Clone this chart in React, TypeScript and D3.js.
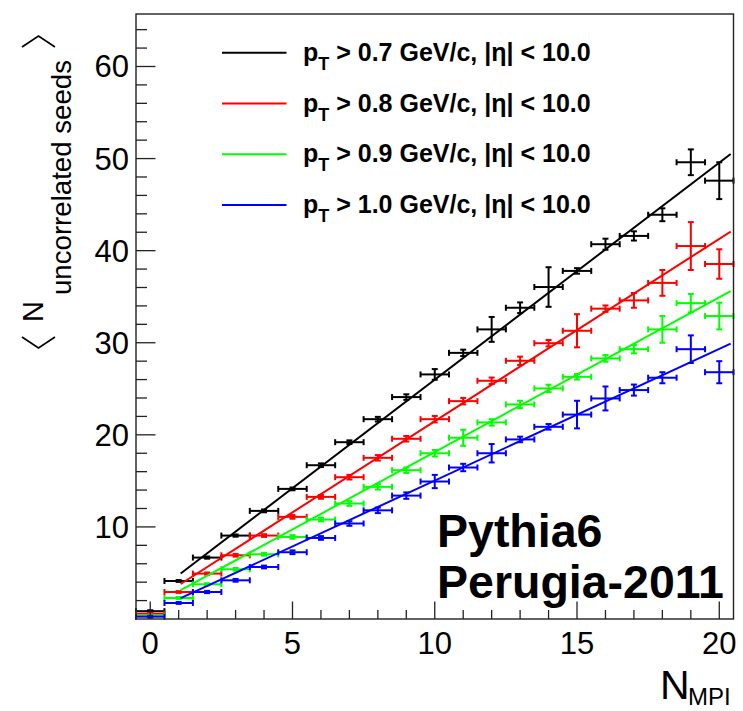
import React from "react";
import * as d3 from "d3";

// ---- data ----
const bins = [0, 1, 2, 3, 4, 5, 6, 7, 8, 9, 10, 11, 12, 13, 14, 15, 16, 17, 18, 19, 20];

const blackVals = [0.85, 4.13, 6.67, 9.06, 11.74, 14.13, 16.7, 19.2, 21.7, 24.1, 26.56, 28.9, 31.45, 33.8, 36.05, 37.8, 40.7, 41.6, 43.9, 49.6, 47.6];
const blackErrs = [0.1, 0.1, 0.12, 0.12, 0.15, 0.15, 0.2, 0.2, 0.25, 0.3, 0.58, 0.35, 1.35, 0.58, 2.15, 0.3, 0.6, 0.5, 0.7, 1.4, 2.0];

const redVals = [0.58, 2.93, 4.93, 6.92, 9.06, 11.09, 13.26, 15.4, 17.5, 19.57, 21.7, 23.66, 25.87, 28.04, 29.95, 31.3, 33.7, 34.6, 36.5, 40.5, 38.55];
const redErrs = [0.1, 0.1, 0.12, 0.15, 0.15, 0.2, 0.2, 0.25, 0.3, 0.3, 0.35, 0.35, 0.35, 0.45, 0.35, 1.8, 0.35, 0.8, 1.4, 2.6, 1.6];

const greenVals = [0.38, 2.28, 3.77, 5.4, 7.03, 8.91, 10.8, 12.54, 14.35, 16.16, 18.0, 19.68, 21.35, 23.3, 25.04, 26.3, 28.3, 29.3, 31.45, 34.3, 32.9];
const greenErrs = [0.1, 0.1, 0.12, 0.15, 0.15, 0.2, 0.2, 0.25, 0.3, 0.3, 0.35, 0.87, 0.35, 0.4, 0.4, 0.3, 0.36, 0.45, 1.45, 1.0, 1.45];

const blueVals = [0.25, 1.74, 2.93, 4.2, 5.65, 7.25, 8.8, 10.37, 11.8, 13.4, 14.93, 16.45, 18.0, 19.5, 20.87, 22.2, 23.95, 24.86, 26.2, 29.3, 26.8];
const blueErrs = [0.1, 0.1, 0.12, 0.15, 0.15, 0.2, 0.2, 0.25, 0.3, 0.35, 0.72, 0.4, 1.0, 0.3, 0.3, 1.5, 1.3, 0.6, 0.6, 1.5, 1.2];

const seriesColors = ["#000000", "#ff0000", "#00ff00", "#0000ff"];
const seriesLabels = ["0.7", "0.8", "0.9", "1.0"];
const fitSlopes = [2.357, 1.98, 1.68, 1.43];
const fitIntercepts = [2.42, 1.68, 1.33, 0.73];
const fitRange = [1.07, 20.4];

const xMajorTicks = [0, 5, 10, 15, 20];
const xMinorTicks = [1, 2, 3, 4, 6, 7, 8, 9, 11, 12, 13, 14, 16, 17, 18, 19];
const yMajorTicks = [10, 20, 30, 40, 50, 60];
const yMinorTicks = [2, 4, 6, 8, 12, 14, 16, 18, 22, 24, 26, 28, 32, 34, 36, 38, 42, 44, 46, 48, 52, 54, 56, 58, 62, 64];

const W = 743;
const H = 711;
const FONT = "'Liberation Sans', Arial, Helvetica, sans-serif";

export default function App() {
  const x = d3.scaleLinear().domain([-0.5, 20.5]).range([136, 733.5]);
  const y = d3.scaleLinear().domain([0, 65.7]).range([619, 14]);
  const [x0, x1] = x.range();
  const [yb, yt] = y.range();

  const series = [
    { vals: blackVals, errs: blackErrs },
    { vals: redVals, errs: redErrs },
    { vals: greenVals, errs: greenErrs },
    { vals: blueVals, errs: blueErrs },
  ];

  const cap = 3;
  const lw = 2;

  return (
    <svg
      width={W}
      height={H}
      viewBox={`0 0 ${W} ${H}`}
      style={{ position: "absolute", left: 0, top: 0, display: "block", background: "#fff" }}
      fontFamily={FONT}
    >
      <rect x={0} y={0} width={W} height={H} fill="#fff" />

      {/* data */}
      {series.map((s, si) => {
        const color = seriesColors[si];
        const a = fitIntercepts[si];
        const b = fitSlopes[si];
        const pathD = d3
          .line<number>()
          .x((d) => x(d))
          .y((d) => y(a + b * d))(fitRange) as string;
        return (
          <g key={si} stroke={color} strokeWidth={lw} fill="none">
            {bins.map((bx, i) => {
              const v = s.vals[i];
              const e = s.errs[i];
              const xl = x(bx - 0.5);
              const xr = x(bx + 0.5);
              const yc = y(v);
              const ylo = y(v - e);
              const yhi = y(v + e);
              const xc = x(bx);
              return (
                <g key={i}>
                  <line x1={xl} x2={xr} y1={yc} y2={yc} />
                  <line x1={xl} x2={xl} y1={yc - cap} y2={yc + cap} />
                  <line x1={xr} x2={xr} y1={yc - cap} y2={yc + cap} />
                  <line x1={xc} x2={xc} y1={ylo} y2={yhi} />
                  <line x1={xc - cap} x2={xc + cap} y1={ylo} y2={ylo} />
                  <line x1={xc - cap} x2={xc + cap} y1={yhi} y2={yhi} />
                </g>
              );
            })}
            <path d={pathD} strokeWidth={2} />
          </g>
        );
      })}

      {/* frame */}
      <rect x={x0} y={yt} width={x1 - x0} height={yb - yt} fill="none" stroke="#222" strokeWidth={1.4} />

      {/* ticks */}
      <g stroke="#222" strokeWidth={1.3}>
        {xMajorTicks.map((t) => (
          <line key={"M" + t} x1={x(t)} x2={x(t)} y1={yb} y2={yb - 17.5} />
        ))}
        {xMinorTicks.map((t) => (
          <line key={"m" + t} x1={x(t)} x2={x(t)} y1={yb} y2={yb - 9} />
        ))}
        {yMajorTicks.map((t) => (
          <line key={"YM" + t} x1={x0} x2={x0 + 19.5} y1={y(t)} y2={y(t)} />
        ))}
        {yMinorTicks.map((t) => (
          <line key={"Ym" + t} x1={x0} x2={x0 + 11} y1={y(t)} y2={y(t)} />
        ))}
      </g>

      {/* tick labels */}
      <g fontSize={31} fill="#000">
        {xMajorTicks.map((t) => (
          <text key={"xl" + t} x={x(t)} y={654} textAnchor="middle">
            {t}
          </text>
        ))}
        {yMajorTicks.map((t) => (
          <text key={"yl" + t} x={129} y={y(t) + 11} textAnchor="end">
            {t}
          </text>
        ))}
      </g>

      {/* x title */}
      <text x={660} y={699} fontSize={41} fill="#000">
        N
      </text>
      <text x={688} y={705} fontSize={24} fill="#000">
        MPI
      </text>

      {/* y title */}
      <g transform="rotate(-90)" fill="#000">
        <text x={-322} y={43} fontSize={29}>
          N
        </text>
        <text x={-295} y={70.5} fontSize={27.6} textLength={235} lengthAdjust="spacingAndGlyphs">
          uncorrelated seeds
        </text>
        <path d="M -337 22 L -348 38.5 L -337 55" stroke="#000" strokeWidth={1.6} fill="none" />
        <path d="M -47 22 L -36 38.5 L -47 55" stroke="#000" strokeWidth={1.6} fill="none" />
      </g>

      {/* legend */}
      {seriesLabels.map((lab, i) => {
        const ly = 52.7 + i * 50.8;
        return (
          <g key={"lg" + i}>
            <line x1={222} x2={286.5} y1={ly} y2={ly} stroke={seriesColors[i]} strokeWidth={2} />
            <text x={303} y={ly + 8} fontSize={25} fontWeight="bold" fill="#000">
              p
              <tspan fontSize={18} dy={9}>
                T
              </tspan>
              <tspan dy={-9}>{` > ${lab} GeV/c, |η| < 10.0`}</tspan>
            </text>
          </g>
        );
      })}

      {/* annotation */}
      <text x={437} y={547} fontSize={46.5} fontWeight="bold" fill="#000">
        Pythia6
      </text>
      <text x={437} y={598} fontSize={46.5} fontWeight="bold" fill="#000">
        Perugia-2011
      </text>
    </svg>
  );
}
